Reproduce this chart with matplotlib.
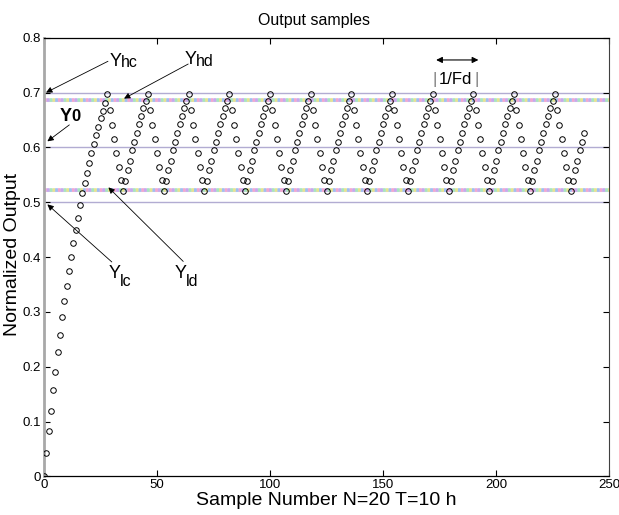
import numpy as np
import matplotlib
matplotlib.use('Agg')
import matplotlib.pyplot as plt

plt.rcParams['font.family'] = ['Liberation Sans', 'DejaVu Sans']
plt.rcParams['lines.scale_dashes'] = False

# normalized output
# start-up rise, samples 0..28 (first peak at 28)
rise = [0.000, 0.042, 0.082, 0.120, 0.157, 0.191, 0.226, 0.258, 0.290, 0.319,
        0.347, 0.374, 0.400, 0.426, 0.450, 0.472, 0.495, 0.516, 0.535, 0.553,
        0.572, 0.590, 0.606, 0.622, 0.638, 0.653, 0.667, 0.681, 0.697]
# one limit cycle after a peak (18 samples, ends on the next peak)
cycle = [0.669, 0.641, 0.615, 0.589, 0.565, 0.541, 0.520, 0.538, 0.558,
         0.576, 0.595, 0.610, 0.626, 0.642, 0.657, 0.671, 0.684, 0.698]
n_cycles = 11
tail = cycle[:13]   # last partial cycle, data stops at sample 239

output = rise + cycle * n_cycles + tail
samples = np.arange(len(output))

# threshold levels
y_hc, y_hd, y_0, y_ld, y_lc = 0.70, 0.687, 0.60, 0.522, 0.50

fig = plt.figure(figsize=(6.19, 5.15), dpi=100)
ax = fig.add_axes([0.0711, 0.075, 0.9128, 0.8518])

# thin levels
for lev in (y_hc, y_0, y_lc):
    ax.axhline(lev, color='#b2acd2', lw=1.0, zorder=1)
# dotted multicolour levels
dot_cols = ['#f4a6cf', '#9fbff2', '#e6e58e', '#a6e6bf', '#c6a8ee']
for lev in (y_hd, y_ld):
    ax.axhline(lev, color='#d6d2e8', lw=2.2, zorder=1)
    for i, c in enumerate(dot_cols):
        ax.axhline(lev, color=c, lw=2.6, zorder=1,
                   linestyle=(i * 2.0, (2.0, 8.0)))

ax.plot(samples, output, 'o', ms=4, mfc='none', mec='black', mew=0.7, zorder=3)

ax.set_xlim(0, 250)
ax.set_ylim(0, 0.8)
ax.set_xticks([0, 50, 100, 150, 200, 250])
ax.set_yticks(np.arange(0, 0.81, 0.1))
ax.set_yticklabels(['0', '0.1', '0.2', '0.3', '0.4', '0.5', '0.6', '0.7', '0.8'])
ax.tick_params(direction='in', length=4, width=0.8, top=True, right=True,
               labelsize=9.5, pad=2)
for s in ('top', 'bottom'):
    ax.spines[s].set_linewidth(0.9)
ax.spines['right'].set_color('#404040')
ax.spines['left'].set_color('#a8a8a8')
ax.spines['left'].set_linewidth(2.0)

ax.set_title('Output samples', fontsize=11.5, pad=9, x=0.478)
ax.set_xlabel('Sample Number N=20 T=10 h', fontsize=14)
ax.xaxis.set_label_coords(0.5, -0.036)
ax.set_ylabel('Normalized Output', fontsize=14)
ax.yaxis.set_label_coords(-0.040, 0.505)

arr = dict(arrowstyle='-|>', color='black', lw=0.6, mutation_scale=9,
           shrinkA=0, shrinkB=0)

# Yhc
ax.annotate('', xy=(0.9, y_hc), xytext=(28.3, 0.757), arrowprops=arr)
ax.text(29.2, 0.749, 'Y', fontsize=13, va='baseline')
ax.text(34.0, 0.746, 'hc', fontsize=11.5, va='baseline')
# Yhd
ax.annotate('', xy=(35.4, y_hd + 0.002), xytext=(63.8, 0.752), arrowprops=arr)
ax.text(62.4, 0.752, 'Y', fontsize=13, va='baseline')
ax.text(67.4, 0.749, 'hd', fontsize=11.5, va='baseline')
# Y0
ax.annotate('', xy=(1.5, 0.611), xytext=(11.2, 0.641), arrowprops=arr)
ax.text(7.1, 0.6485, 'Y', fontsize=13, va='baseline', fontweight='bold')
ax.text(12.0, 0.6485, '0', fontsize=12, va='baseline', fontweight='bold')
# Ylc
ax.annotate('', xy=(1.5, 0.496), xytext=(30.0, 0.391), arrowprops=arr)
ax.text(28.4, 0.362, 'Y', fontsize=13, va='baseline')
ax.text(33.4, 0.347, 'lc', fontsize=11.5, va='baseline')
# Yld
ax.annotate('', xy=(28.5, 0.527), xytext=(61.6, 0.392), arrowprops=arr)
ax.text(57.9, 0.362, 'Y', fontsize=13, va='baseline')
ax.text(62.9, 0.347, 'ld', fontsize=11.5, va='baseline')

# 1/Fd period marker
ax.annotate('', xy=(173.5, 0.7594), xytext=(192.2, 0.7594),
            arrowprops=dict(arrowstyle='<|-|>', color='black', lw=0.8,
                            mutation_scale=9, shrinkA=0, shrinkB=0))
ax.text(182.2, 0.7155, '1/Fd', fontsize=12, ha='center', va='baseline')
ax.text(172.8, 0.7155, '|', fontsize=12, ha='center', va='baseline', color='#808080')
ax.text(191.6, 0.7155, '|', fontsize=12, ha='center', va='baseline', color='#808080')

fig.savefig('out.png', dpi=100)
